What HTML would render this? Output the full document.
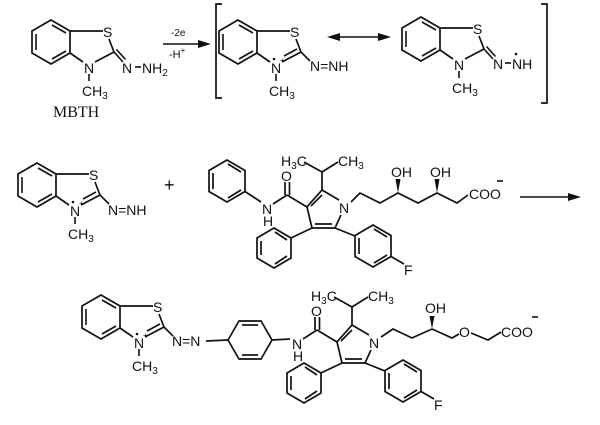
<!DOCTYPE html>
<html><head><meta charset="utf-8"><style>
html,body{margin:0;padding:0;background:#fff;}
svg{display:block;}
text{font-family:"Liberation Sans",sans-serif;font-size:14px;fill:#111;}
.s{font-size:10px;}
</style></head><body>
<svg width="600" height="425" viewBox="0 0 600 425" xmlns="http://www.w3.org/2000/svg">
<defs>
<g id="benz">
  <polygon points="51,20 70,31 70,53 51,64 32,53 32,31" fill="none" stroke="#111" stroke-width="1.7"/>
  <line x1="36" y1="34" x2="36" y2="50" stroke="#111" stroke-width="1.6"/>
  <line x1="52" y1="25" x2="66" y2="33" stroke="#111" stroke-width="1.6"/>
  <line x1="66" y1="51" x2="52" y2="59" stroke="#111" stroke-width="1.6"/>
  <line x1="70" y1="31" x2="103" y2="31" stroke="#111" stroke-width="1.7"/>
  <text x="103" y="37">S</text>
  <line x1="109" y1="39" x2="114" y2="52" stroke="#111" stroke-width="1.7"/>
  <line x1="114" y1="52" x2="95" y2="62" stroke="#111" stroke-width="1.7"/>
  <line x1="70" y1="53" x2="83" y2="62" stroke="#111" stroke-width="1.7"/>
  <text x="84" y="73">N</text>
  <line x1="89" y1="74" x2="89" y2="81" stroke="#111" stroke-width="1.6"/>
  <text x="82" y="96">CH<tspan class="s" dy="3">3</tspan></text>
</g>
<g id="core" fill="none" stroke="#111" stroke-width="1.7">
  <text x="262" y="214" stroke="none">N</text>
  <text x="263" y="226" stroke="none">H</text>
  <line x1="273" y1="204" x2="287" y2="195"/>
  <line x1="285" y1="195" x2="285" y2="182"/>
  <line x1="289.5" y1="195" x2="289.5" y2="182"/>
  <text x="281" y="181" stroke="none">O</text>
  <line x1="287" y1="195" x2="307" y2="207"/>
  <polyline points="339,200 322,190 307,207 312,228 335,228 341,215"/>
  <line x1="311" y1="206" x2="322" y2="195"/>
  <line x1="315" y1="224" x2="332" y2="224"/>
  <text x="339" y="213" stroke="none">N</text>
  <polyline points="322,190 322,172 304,162"/>
  <line x1="322" y1="172" x2="338" y2="162"/>
  <text x="281" y="166" stroke="none">H<tspan class="s" dy="3">3</tspan><tspan dy="-3">C</tspan></text>
  <text x="338" y="166" stroke="none">CH<tspan class="s" dy="3">3</tspan></text>
  <line x1="312" y1="228" x2="291" y2="238"/>
  <polygon points="274,228 291,238 291,258 274,268 257,258 257,238"/>
  <line x1="261" y1="241" x2="261" y2="255"/>
  <line x1="275" y1="232" x2="287" y2="240"/>
  <line x1="287" y1="256" x2="275" y2="264"/>
  <line x1="335" y1="228" x2="355" y2="236"/>
  <polygon points="373,225 391,235.5 391,256.5 373,267 355,256.5 355,235.5"/>
  <line x1="359" y1="238" x2="359" y2="254"/>
  <line x1="374" y1="229" x2="387" y2="237"/>
  <line x1="387" y1="255" x2="374" y2="263"/>
  <line x1="391" y1="256.5" x2="404" y2="264"/>
  <text x="404" y="275" stroke="none">F</text>
</g>
</defs>

<!-- Row 1 -->
<use href="#benz"/>
<g stroke="#111" stroke-width="1.6">
  <line x1="114" y1="52" x2="123" y2="62"/><line x1="116.5" y1="49.5" x2="125.5" y2="59.5"/>
  <line x1="135" y1="67" x2="141" y2="67"/>
</g>
<text x="122" y="73">N</text>
<text x="142" y="73">NH<tspan class="s" dy="3">2</tspan></text>
<text x="53" y="117" style="font-family:'Liberation Serif',serif;font-size:16px">MBTH</text>

<line x1="163" y1="44" x2="200" y2="44" stroke="#111" stroke-width="1.6"/>
<polygon points="211,44 198,40 198,48" fill="#111"/>
<text x="171" y="36" style="font-size:10px">-2e</text>
<text x="169" y="58" style="font-size:11px">-H<tspan style="font-size:8px" dy="-5">+</tspan></text>

<path d="M222,4 L216,4 L216,98 L222,98" fill="none" stroke="#111" stroke-width="1.7"/>
<path d="M541,4 L547,4 L547,103 L541,103" fill="none" stroke="#111" stroke-width="1.7"/>

<g transform="translate(187,0)">
  <use href="#benz"/>
  <g stroke="#111" stroke-width="1.6">
    <line x1="110" y1="49" x2="97" y2="56"/>
    <line x1="114" y1="52" x2="123" y2="61"/>
  </g>
  <circle cx="87" cy="59" r="1.3" fill="#111"/>
  <text x="93" y="63" style="font-size:8px">+</text>
  <text x="123" y="71">N=NH</text>
</g>

<line x1="338" y1="37" x2="380" y2="37" stroke="#111" stroke-width="1.6"/>
<polygon points="327,37 340,33 340,41" fill="#111"/>
<polygon points="391,37 378,33 378,41" fill="#111"/>

<g transform="translate(370,-3)">
  <use href="#benz"/>
  <g stroke="#111" stroke-width="1.6">
    <line x1="114" y1="52" x2="123" y2="62"/><line x1="116.5" y1="49.5" x2="125.5" y2="59.5"/>
    <line x1="135" y1="66" x2="141" y2="66"/>
  </g>
  <text x="123" y="72">N</text>
  <text x="142" y="72">NH</text>
  <circle cx="146" cy="57" r="1.3" fill="#111"/>
</g>

<!-- Row 2 -->
<g transform="translate(-14,143)">
  <use href="#benz"/>
  <g stroke="#111" stroke-width="1.6">
    <line x1="110" y1="49" x2="97" y2="56"/>
    <line x1="114" y1="52" x2="123" y2="61"/>
  </g>
  <circle cx="87" cy="59" r="1.3" fill="#111"/>
  <text x="93" y="63" style="font-size:8px">+</text>
  <text x="122" y="72">N=NH</text>
</g>
<text x="164" y="191" style="font-size:18px">+</text>

<g fill="none" stroke="#111" stroke-width="1.7">
  <polygon points="227,160 245,170.5 245,191.5 227,202 209,191.5 209,170.5"/>
  <line x1="213" y1="173" x2="213" y2="189"/>
  <line x1="228" y1="164" x2="241" y2="172"/>
  <line x1="241" y1="190" x2="228" y2="198"/>
  <line x1="245" y1="191.5" x2="261" y2="202"/>
  <polyline points="351,202 360,193 380,203 398,193 418,203 437,193 457,203 468,195"/>
</g>
<use href="#core"/>
<polygon points="398,193 395.5,179 400.5,179" fill="#111"/>
<polygon points="437,193 434.5,179 439.5,179" fill="#111"/>
<text x="391" y="177">OH</text>
<text x="430" y="177">OH</text>
<text x="469" y="199">COO</text>
<line x1="497" y1="181" x2="503" y2="181" stroke="#111" stroke-width="1.6"/>
<line x1="520" y1="197" x2="570" y2="197" stroke="#111" stroke-width="1.6"/>
<polygon points="581,197 568,193 568,201" fill="#111"/>

<!-- Row 3 -->
<g transform="translate(50,275)">
  <use href="#benz"/>
  <g stroke="#111" stroke-width="1.6">
    <line x1="110" y1="49" x2="97" y2="56"/>
    <line x1="114" y1="52" x2="123" y2="61"/>
  </g>
  <circle cx="87" cy="59" r="1.3" fill="#111"/>
  <text x="93" y="63" style="font-size:8px">+</text>
  <text x="122" y="71">N=N</text>
</g>
<g fill="none" stroke="#111" stroke-width="1.7">
  <line x1="206" y1="341" x2="228" y2="340"/>
  <polygon points="228,340 239,321 261,321 272,340 261,359 239,359"/>
  <line x1="242" y1="325" x2="258" y2="325"/>
  <line x1="242" y1="355" x2="258" y2="355"/>
  <line x1="268" y1="340" x2="258" y2="323" stroke-width="0"/>
  <line x1="272" y1="340" x2="290" y2="339"/>
  <polyline points="381,337 393,329 412,338 432,329 452,338 459,334"/>
  <polyline points="471,333 488,340 501,332"/>
</g>
<use href="#core" transform="translate(30,135)"/>
<polygon points="432,329 429.5,316 434.5,316" fill="#111"/>
<text x="425" y="313">OH</text>
<text x="459" y="337">O</text>
<text x="501" y="337">COO</text>
<line x1="532" y1="317" x2="538" y2="317" stroke="#111" stroke-width="1.6"/>
</svg>
</body></html>
